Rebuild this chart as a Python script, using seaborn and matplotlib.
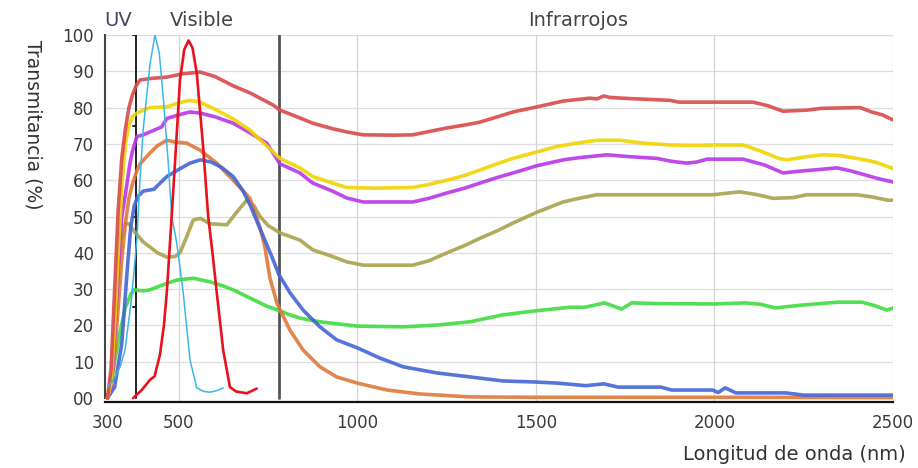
import numpy as np
import pandas as pd
import matplotlib
matplotlib.use("Agg")
import matplotlib.pyplot as plt
import seaborn as sns

# ---- spectral transmittance data (wavelength in nm, transmittance in %) ----
red_nm = [300, 310, 320, 330, 340, 350, 360, 370, 380, 391, 419, 466, 510, 559, 600, 652, 700, 764, 783,
          830, 875, 930, 970, 1016, 1100, 1155, 1200, 1251, 1300, 1343, 1390, 1436, 1503, 1576, 1651, 1671,
          1690, 1707, 1760, 1876, 1900, 1996, 2108, 2150, 2192, 2259, 2300, 2408, 2440, 2470, 2500]
red_t = [0, 8, 30, 52, 66, 74, 80, 83.5, 86, 87.6, 88, 88.4, 89.3, 89.8, 88.6, 86, 84, 80.7, 79.3,
         77.5, 75.7, 74.2, 73.3, 72.5, 72.4, 72.5, 73.4, 74.4, 75.2, 76, 77.4, 78.8, 80.2, 81.8, 82.6, 82.4,
         83.2, 82.8, 82.5, 82, 81.5, 81.5, 81.5, 80.5, 79, 79.3, 79.8, 80, 78.8, 78, 76.6]

yellow_nm = [300, 310, 320, 330, 340, 350, 360, 370, 382, 400, 419, 466, 500, 531, 559, 606, 650, 699, 740,
             783, 839, 875, 930, 970, 1050, 1155, 1200, 1251, 1300, 1343, 1390, 1436, 1503, 1560, 1620, 1671,
             1735, 1800, 1876, 1950, 1996, 2080, 2130, 2180, 2203, 2260, 2304, 2350, 2399, 2450, 2500]
yellow_t = [0, 4, 20, 40, 58, 70, 75, 77.5, 78.5, 79.3, 80, 80.2, 81.3, 82, 81.5, 79.3, 77, 73.8, 70,
            66, 63.4, 61, 59.2, 58, 57.8, 58, 58.8, 60, 61.3, 62.8, 64.5, 66, 67.8, 69.3, 70.3, 71,
            71, 70.2, 69.7, 69.6, 69.7, 69.7, 68, 66, 65.6, 66.5, 67, 66.8, 66, 65, 63.2]

magenta_nm = [300, 310, 320, 330, 340, 350, 363, 370, 382, 400, 419, 452, 466, 500, 531, 559, 600, 652, 700,
              746, 783, 839, 875, 930, 970, 1016, 1100, 1155, 1200, 1251, 1300, 1343, 1390, 1436, 1503, 1576,
              1620, 1671, 1699, 1760, 1839, 1880, 1923, 1950, 1979, 2080, 2140, 2192, 2240, 2300, 2343, 2380,
              2420, 2460, 2500]
magenta_t = [0, 3, 17, 36, 50, 56, 64.7, 68, 72, 72.5, 73.3, 74.7, 77, 78, 78.8, 78.5, 77.5, 75.7, 73,
             70.2, 64.5, 62, 59.2, 57, 55.1, 54, 54, 54, 55, 56.5, 57.8, 59.2, 60.7, 62, 64, 65.6,
             66.2, 66.7, 67, 66.5, 66, 65.2, 64.7, 65, 65.8, 65.8, 64.2, 62, 62.5, 63, 63.4, 62.6,
             61.5, 60.4, 59.5]

orange_nm = [300, 310, 320, 330, 340, 350, 360, 370, 380, 391, 419, 440, 466, 490, 522, 559, 606, 652, 699,
             727, 740, 755, 775, 811, 848, 895, 942, 1000, 1083, 1175, 1316, 1500, 2000, 2500]
orange_t = [0, 3, 12, 25, 38, 48, 55, 59, 62, 64.5, 67.5, 69.5, 71, 70.5, 70.2, 68.3, 64.7, 60, 55,
            47, 42, 33, 26, 18.7, 13.2, 8.6, 5.8, 4.1, 2.2, 1.1, 0.3, 0.2, 0.2, 0.1]

blue_nm = [300, 320, 340, 355, 365, 375, 385, 400, 430, 466, 500, 531, 560, 590, 620, 652, 680, 700, 730,
           760, 780, 811, 848, 895, 942, 1000, 1063, 1128, 1223, 1316, 1407, 1500, 1560, 1640, 1690, 1730,
           1850, 1880, 1995, 2010, 2030, 2060, 2200, 2250, 2500]
blue_t = [0, 3, 15, 35, 47, 53, 55.5, 57, 57.5, 61, 63, 64.7, 65.6, 65, 63.5, 61, 57, 53, 46,
          39, 34, 29, 24.2, 19.6, 16, 13.8, 11, 8.6, 6.9, 5.8, 4.7, 4.4, 4.1, 3.4, 3.9, 3,
          3, 2.2, 2.2, 1.5, 2.8, 1.4, 1.4, 0.8, 0.8]

olive_nm = [300, 310, 320, 330, 340, 350, 360, 374, 400, 419, 440, 466, 490, 503, 520, 540, 560, 587, 634,
            662, 690, 710, 727, 750, 783, 839, 875, 930, 970, 1016, 1100, 1155, 1200, 1251, 1300, 1343, 1390,
            1436, 1503, 1576, 1620, 1671, 1744, 1850, 1996, 2071, 2120, 2164, 2220, 2259, 2330, 2399, 2440,
            2486, 2500]
olive_t = [0, 5, 18, 33, 44, 48, 48, 46, 43, 41.6, 40, 38.8, 39, 40, 44, 49, 49.5, 48, 47.7,
           51.2, 54.5, 53, 50, 47.5, 45.5, 43.5, 40.8, 39, 37.5, 36.6, 36.6, 36.6, 37.8, 40, 42, 44, 46,
           48.2, 51.2, 54, 55, 56, 56, 56, 56, 56.8, 56, 55, 55.2, 56, 56, 56, 55.4, 54.5, 54.5]

green_nm = [300, 310, 320, 335, 350, 365, 374, 400, 419, 450, 494, 540, 587, 620, 652, 700, 746, 783, 811,
            840, 895, 1000, 1128, 1223, 1316, 1407, 1497, 1595, 1637, 1692, 1740, 1768, 1850, 2000, 2086,
            2130, 2170, 2245, 2345, 2413, 2450, 2483, 2500]
green_t = [0, 4, 10, 18, 25, 28.5, 29.8, 29.5, 29.8, 31, 32.5, 33, 32, 31, 29.8, 27.5, 25.3, 24, 22.9,
           22, 21, 19.8, 19.6, 20.1, 21, 22.9, 24, 25, 25, 26.2, 24.5, 26.2, 26, 25.9, 26.2,
           25.8, 24.8, 25.6, 26.4, 26.4, 25.4, 24.2, 24.8]

cyan_nm = [300, 321, 335, 349, 363, 368, 382, 391, 400, 419, 433, 445, 456, 470, 480, 494, 512, 531, 550,
           570, 587, 605, 624]
cyan_t = [2.8, 5.8, 8.5, 13.2, 24, 28, 43.5, 60, 74, 92, 100, 95, 83, 65, 50, 42.7, 29, 10.5, 2.8,
          1.8, 1.6, 2, 2.8]

bright_nm = [372, 396, 419, 432, 447, 458, 466, 475, 489, 503, 515, 527, 538, 550, 568, 582, 594, 606, 624,
             643, 660, 690, 705, 718]
bright_t = [0, 2.2, 5, 6, 12, 20, 29, 42.7, 64.7, 87.6, 96, 98.5, 96.5, 89.5, 69, 50, 40, 29, 13.2,
            3, 1.8, 1.3, 2, 2.6]

series = [
    ("olive", olive_nm, olive_t, "#a9a24c", 2.6, 0.9),
    ("green", green_nm, green_t, "#3fdc3f", 2.6, 0.9),
    ("orange", orange_nm, orange_t, "#e0793a", 2.6, 0.9),
    ("blue", blue_nm, blue_t, "#4466d6", 2.6, 0.9),
    ("magenta", magenta_nm, magenta_t, "#b935e8", 2.6, 0.9),
    ("yellow", yellow_nm, yellow_t, "#f0d400", 2.6, 0.9),
    ("red", red_nm, red_t, "#d94a4c", 2.6, 0.9),
    ("cyan", cyan_nm, cyan_t, "#3bb6e8", 1.1, 1.0),
    ("bright", bright_nm, bright_t, "#e8121c", 1.9, 1.0),
]

x_ticks = [300, 500, 1000, 1500, 2000, 2500]
x_minor = [466, 567, 665, 766]
y_ticks = list(range(0, 101, 10))
y_labels = ["00"] + [str(v) for v in y_ticks[1:]]

sns.set_style("white")
plt.rcParams["font.family"] = ["DejaVu Sans"]

fig = plt.figure(figsize=(9.18, 4.68), dpi=100)
ax = fig.add_axes([105 / 918, 1 - 402 / 468, (893 - 105) / 918, (402 - 35) / 468])

for name, nm, t, col, lw, a in series:
    df = pd.DataFrame({"nm": nm, "T": t})
    sns.lineplot(data=df, x="nm", y="T", color=col, lw=lw, alpha=a, ax=ax,
                 solid_capstyle="round", solid_joinstyle="round", zorder=3)

ax.set_xlim(293, 2500)
ax.set_ylim(-1.1, 100)

# grid
for v in y_ticks[1:]:
    ax.axhline(v, color="#dedede", lw=0.9, zorder=0)
for v in [500, 1000, 1500, 2000, 2500]:
    ax.axvline(v, color="#d4d4d4", lw=0.9, zorder=0)

# region boundaries
ax.plot([380, 380], [0, 100], color="#222222", lw=1.4, zorder=2)
for v in [100, 75, 50, 25]:
    ax.plot([372, 380], [v, v], color="#222222", lw=1.4, zorder=2)
ax.plot([780, 780], [0, 100], color="#555555", lw=2.0, zorder=2)

for s in ["top", "right"]:
    ax.spines[s].set_visible(False)
ax.spines["left"].set_color("#444444")
ax.spines["left"].set_linewidth(1.5)
ax.spines["left"].set_bounds(0, 100)
ax.spines["bottom"].set_color("#111111")
ax.spines["bottom"].set_linewidth(1.6)

ax.set_xticks(x_ticks)
ax.set_xticklabels([str(v) for v in x_ticks])
ax.set_xticks(x_minor, minor=True)
ax.tick_params(axis="x", which="major", length=0, pad=9, labelsize=12, labelcolor="#3a3a3a")
ax.tick_params(axis="x", which="minor", length=11, width=1.4, color="#111111", direction="out")
ax.set_yticks(y_ticks)
ax.set_yticklabels(y_labels)
ax.tick_params(axis="y", length=0, pad=8, labelsize=12, labelcolor="#3a3a3a")

ax.set_xlabel("")
ax.set_ylabel("")

fig.text(33 / 918, 1 - 125 / 468, "Transmitancia (%)", rotation=-90, ha="center", va="center",
         fontsize=13.5, color="#333333")
fig.text(906 / 918, 1 - 455 / 468, "Longitud de onda (nm)", ha="right", va="center",
         fontsize=14, color="#333333")
fig.text(118 / 918, 1 - 20 / 468, "UV", ha="center", va="center", fontsize=14, color="#444466")
fig.text(202 / 918, 1 - 20 / 468, "Visible", ha="center", va="center", fontsize=14, color="#444444")
fig.text(578 / 918, 1 - 20 / 468, "Infrarrojos", ha="center", va="center", fontsize=14, color="#444444")

fig.savefig("out.png", dpi=100, facecolor="white")
